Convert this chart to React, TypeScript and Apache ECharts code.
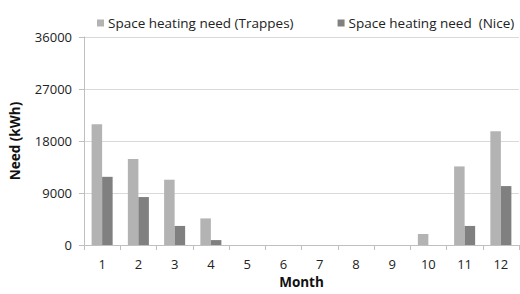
import React, { useEffect, useRef } from "react";
import * as echarts from "echarts";

const months = ["1", "2", "3", "4", "5", "6", "7", "8", "9", "10", "11", "12"];
const trappes = [20900, 14900, 11300, 4600, 0, 0, 0, 0, 0, 1900, 13600, 19700];
const nice = [11800, 8300, 3300, 850, 0, 0, 0, 0, 0, 0, 3300, 10200];
const yTicks = [0, 9000, 18000, 27000, 36000];

export default function App() {
  const ref = useRef<HTMLDivElement>(null);
  useEffect(() => {
    if (!ref.current) return;
    const chart = echarts.init(ref.current, null, { renderer: "svg" });
    const font = "'Open Sans', 'Noto Sans', sans-serif";
    chart.setOption({
      animation: false,
      textStyle: { fontFamily: font },
      legend: {
        top: 11,
        left: 92,
        itemWidth: 7,
        itemHeight: 7,
        itemGap: 44,
        icon: "rect",
        textStyle: { fontSize: 13.5, color: "#222", fontFamily: font, padding: [0, 0, 0, -1] },
        data: ["Space heating need (Trappes)", "Space heating need  (Nice)"],
      },
      grid: { left: 83, right: 1, top: 37, bottom: 47, containLabel: false },
      xAxis: {
        type: "category",
        data: months,
        name: "Month",
        nameLocation: "middle",
        nameGap: 30,
        nameTextStyle: { fontSize: 13.5, fontWeight: "bold", color: "#111", fontFamily: font },
        axisLine: { lineStyle: { color: "#bfbfbf" } },
        axisTick: { show: true, length: 5, lineStyle: { color: "#bfbfbf" } },
        axisLabel: { fontSize: 13, color: "#222", margin: 12, fontFamily: font },
      },
      yAxis: {
        type: "value",
        min: 0,
        max: yTicks[yTicks.length - 1],
        interval: yTicks[1] - yTicks[0],
        name: "Need (kWh)",
        nameLocation: "middle",
        nameGap: 62,
        nameTextStyle: { fontSize: 13.5, fontWeight: "bold", color: "#111", fontFamily: font },
        axisLine: { show: true, lineStyle: { color: "#bfbfbf" } },
        axisTick: { show: true, length: 5, lineStyle: { color: "#bfbfbf" } },
        axisLabel: { fontSize: 13, color: "#222", margin: 12, fontFamily: font, formatter: (v: number) => String(v) },
        splitLine: { lineStyle: { color: "#d9d9d9" } },
      },
      series: [
        {
          name: "Space heating need (Trappes)",
          type: "bar",
          data: trappes,
          itemStyle: { color: "#b3b3b3" },
          barGap: "0%",
          barCategoryGap: "42%",
        },
        {
          name: "Space heating need  (Nice)",
          type: "bar",
          data: nice,
          itemStyle: { color: "#808080" },
          barGap: "0%",
          barCategoryGap: "42%",
        },
      ],
    });
    return () => chart.dispose();
  }, []);
  return <div ref={ref} style={{ width: 520, height: 294, position: "absolute", left: 0, top: 0 }} />;
}
